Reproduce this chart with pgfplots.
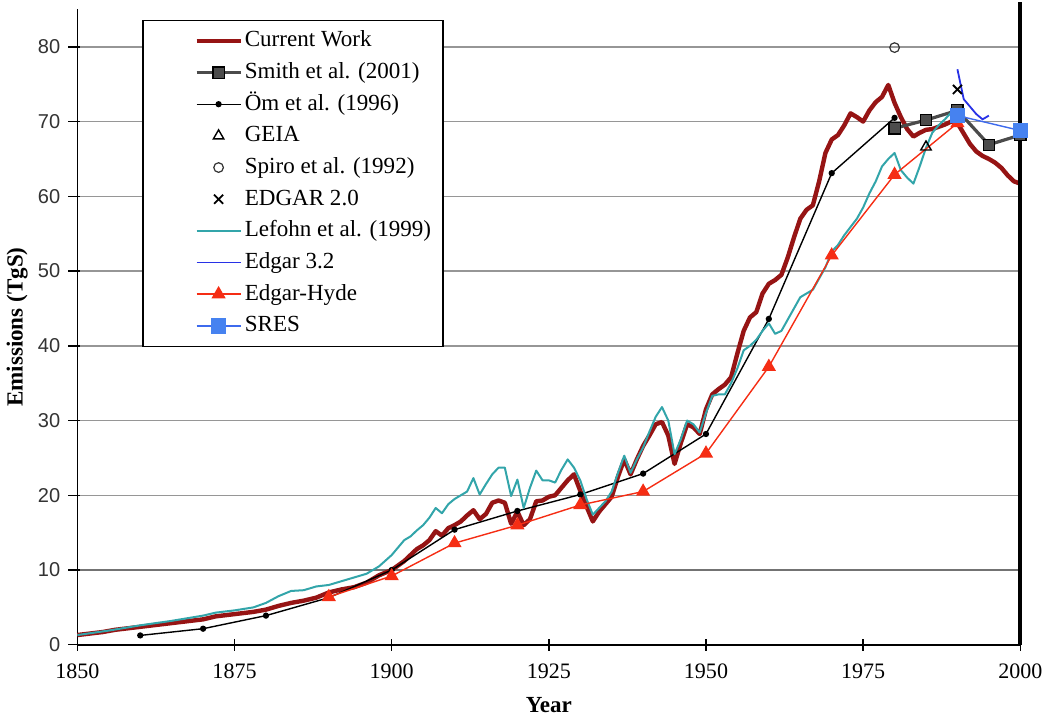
\documentclass[border=0pt]{standalone}
\usepackage{fontspec}
\setmainfont{Liberation Serif}
\newfontfamily\ysans{Liberation Sans}
\usepackage{pgfplots}
\pgfplotsset{compat=1.18}
\definecolor{cwred}{RGB}{150,20,20}
\definecolor{smithgray}{RGB}{75,75,75}
\definecolor{lefteal}{RGB}{50,165,170}
\definecolor{ehred}{RGB}{245,45,20}
\definecolor{e32blue}{RGB}{40,50,230}
\definecolor{sresblue}{RGB}{70,130,240}
\definecolor{gridgray}{RGB}{150,150,150}
\begin{document}
\begin{tikzpicture}
\begin{axis}[
  width=470.5pt, height=317pt, scale only axis,
  xmin=1850, xmax=2000, ymin=0, ymax=85,
  xtick={1850,1875,...,2000}, ytick={0,10,...,80},
  axis x line*=bottom, axis y line*=left,
  axis line style={line width=0.8pt},
  clip=false,
  tick align=outside, major tick length=6pt,
  xtick style={yshift=3pt, line width=0.7pt, black},
  ytick style={xshift=1.5pt, line width=0.7pt, black},
  ymajorgrids, major grid style={gridgray, line width=0.7pt},
  extra y ticks={10}, extra y tick labels={},
  extra y tick style={grid=major, major grid style={draw=black!55, line width=1.3pt}, ytick style={line width=1.3pt}},
  /pgf/number format/assume math mode=true,
  xticklabel style={font=\fontsize{11}{13}\selectfont, /pgf/number format/1000 sep={}, yshift=0pt},
  yticklabel style={font=\ysans\fontsize{10}{12}\selectfont, text=black!80, xshift=1pt},
  xlabel={\bfseries Year}, ylabel={\bfseries Emissions (TgS)},
  every axis x label/.style={at={(axis description cs:0.5,-0.0946)}, anchor=center, font=\fontsize{11.5}{13}\selectfont},
  every axis y label/.style={at={(axis description cs:-0.0638,0.5)}, anchor=center, rotate=90, font=\fontsize{11.5}{13}\selectfont},
  legend style={at={(rel axis cs:0.069,0.984)}, anchor=north west, draw=black, line width=0.8pt,
    inner xsep=5pt, inner ysep=4.2pt, font=\fontsize{11.5}{13.5}\selectfont, row sep=3.8pt,
    nodes={inner xsep=1pt, inner ysep=0pt, text height=9pt, text depth=3pt}},
  legend cell align=left,
  legend image code/.code={\path (-20.5pt,0pt); \draw[mark repeat=2,mark phase=2,#1] plot coordinates {(0pt,0pt) (11pt,0pt) (22pt,0pt)};},
]
% Current Work
\addplot[cwred, line width=2.2pt, line join=round] coordinates {
(1850,1.3)(1852,1.5)(1854,1.7)(1856,2.0)(1858,2.2)(1860,2.4)(1862,2.6)(1864,2.8)(1866,3.0)(1868,3.2)
(1870,3.4)(1872,3.8)(1874,4.0)(1876,4.2)(1878,4.4)(1880,4.7)(1882,5.2)(1884,5.6)(1886,5.9)(1888,6.3)
(1890,7.0)(1892,7.4)(1894,7.7)(1896,8.3)(1898,9.3)(1900,10.0)(1901,10.6)(1902,11.2)(1903,12.0)(1904,12.8)
(1905,13.3)(1906,14.0)(1907,15.2)(1908,14.6)(1909,15.6)(1910,16.0)(1911,16.5)(1912,17.3)(1913,18.0)(1914,16.8)
(1915,17.5)(1916,19.0)(1917,19.3)(1918,19.0)(1919,16.2)(1920,17.8)(1921,16.0)(1922,16.8)(1923,19.2)(1924,19.3)
(1925,19.8)(1926,20.0)(1927,21.0)(1928,22.0)(1929,22.8)(1930,20.6)(1931,18.5)(1932,16.5)(1933,17.8)(1934,18.8)
(1935,19.8)(1936,22.5)(1937,24.8)(1938,22.8)(1939,24.8)(1940,26.6)(1941,28.0)(1942,29.5)(1943,29.8)(1944,28.0)
(1945,24.2)(1946,27.0)(1947,29.5)(1948,29.1)(1949,28.2)(1950,31.5)(1951,33.5)(1952,34.2)(1953,34.8)(1954,35.8)
(1955,39.0)(1956,42.0)(1957,43.8)(1958,44.5)(1959,47.0)(1960,48.3)(1961,48.8)(1962,49.5)(1963,51.8)(1964,54.5)
(1965,57.0)(1966,58.2)(1967,58.8)(1968,62.0)(1969,65.8)(1970,67.6)(1971,68.2)(1972,69.5)(1973,71.1)(1974,70.6)
(1975,70.0)(1976,71.5)(1977,72.6)(1978,73.3)(1979,74.9)(1980,72.5)(1981,70.6)(1982,69.0)(1983,68.0)(1984,68.5)
(1985,68.9)(1986,69.0)(1987,69.3)(1988,69.6)(1989,70.0)(1990,69.8)(1991,68.4)(1992,67.0)(1993,66.0)(1994,65.4)
(1995,65.0)(1996,64.5)(1997,63.8)(1998,62.8)(1999,62.0)(2000,61.7)};
\addlegendentry{Current Work}
% Smith et al. (2001)
\addplot[smithgray, line width=1.6pt, mark=square*, mark size=2.8pt, mark options={fill=black!70, draw=black, line width=0.6pt}] coordinates {
(1980,69.1)(1985,70.2)(1990,71.5)(1995,66.9)(2000,68.2)};
\addlegendentry{Smith et al. (2001)}
% Orn et al. (1996)
\addplot[black, line width=0.7pt, mark=*, mark size=1.2pt] coordinates {
(1860,1.25)(1870,2.15)(1880,3.9)(1890,6.3)(1900,10.0)(1910,15.4)(1920,17.9)(1930,20.1)(1940,22.9)(1950,28.2)
(1960,43.6)(1970,63.1)(1980,70.5)};
\addlegendentry{Öm et al. (1996)}
% GEIA
\addplot[only marks, black, mark=triangle, mark size=3pt, mark options={line width=0.7pt}] coordinates {(1985,66.6)};
\addlegendentry{GEIA}
% Spiro
\addplot[only marks, black!80, mark=o, mark size=2.4pt, mark options={line width=0.6pt}] coordinates {(1980,79.9)};
\addlegendentry{Spiro et al. (1992)}
% EDGAR 2.0
\addplot[only marks, black, mark=x, mark size=3.2pt, mark options={line width=0.9pt}] coordinates {(1990,74.3)};
\addlegendentry{EDGAR 2.0}
% Lefohn et al. (1999)
\addplot[lefteal, line width=1pt, line join=round] coordinates {
(1850,1.3)(1855,1.9)(1860,2.6)(1865,3.2)(1870,3.9)(1872,4.3)(1875,4.6)(1878,5.0)(1880,5.6)(1882,6.5)
(1884,7.2)(1886,7.3)(1888,7.8)(1890,8.0)(1892,8.5)(1894,9.0)(1896,9.5)(1898,10.5)(1900,12.0)(1901,13.0)
(1902,14.0)(1903,14.5)(1904,15.3)(1905,16.0)(1906,17.0)(1907,18.3)(1908,17.6)(1909,18.8)(1910,19.5)(1911,20.0)
(1912,20.5)(1913,22.3)(1914,20.1)(1915,21.5)(1916,22.8)(1917,23.7)(1918,23.7)(1919,19.9)(1920,22.1)(1921,18.3)
(1922,21.0)(1923,23.3)(1924,22.0)(1925,22.0)(1926,21.7)(1927,23.4)(1928,24.8)(1929,23.7)(1930,22.0)(1931,19.5)
(1932,17.4)(1933,18.3)(1934,19.2)(1935,20.5)(1936,23.0)(1937,25.3)(1938,23.0)(1939,24.8)(1940,26.4)(1941,28.5)
(1942,30.5)(1943,31.8)(1944,30.0)(1945,25.5)(1946,27.5)(1947,30.0)(1948,29.5)(1949,28.4)(1950,31.0)(1951,33.3)
(1952,33.5)(1953,33.5)(1954,35.0)(1955,37.0)(1956,39.4)(1957,40.0)(1958,40.8)(1959,42.0)(1960,43.0)(1961,41.6)
(1962,42.0)(1963,43.5)(1964,45.0)(1965,46.5)(1966,47.0)(1967,47.5)(1968,49.0)(1969,50.5)(1970,52.6)(1971,53.5)
(1972,54.8)(1973,55.9)(1974,57.0)(1975,58.5)(1976,60.4)(1977,62.0)(1978,64.0)(1979,65.0)(1980,65.8)(1981,63.5)
(1982,62.5)(1983,61.7)(1984,64.0)(1985,66.5)(1986,68.5)(1987,69.5)(1988,70.3)(1989,71.2)(1990,71.5)};
\addlegendentry{Lefohn et al. (1999)}
% Edgar 3.2
\addplot[e32blue, line width=0.9pt] coordinates {
(1990,77.0)(1990.5,75.0)(1991,73.0)(1992,72.0)(1993,71.0)(1994,70.3)(1995,70.8)};
\addlegendentry{Edgar 3.2}
% Edgar-Hyde
\addplot[ehred, line width=0.7pt, mark=triangle*, mark size=3.4pt, mark options={fill=ehred, draw=ehred}] coordinates {
(1890,6.4)(1900,9.2)(1910,13.6)(1920,16.0)(1930,18.7)(1940,20.5)(1950,25.6)(1960,37.2)(1970,52.1)(1980,62.9)(1990,69.8)};
\addlegendentry{Edgar-Hyde}
% SRES
\addplot[sresblue!70!e32blue, line width=0.7pt, mark=square*, mark size=3.5pt, mark options={fill=sresblue, draw=sresblue}] coordinates {
(1990,70.8)(2000,68.8)};
\addlegendentry{SRES}
\draw[black, line width=2pt] (axis cs:2000,0) -- (axis cs:2000,86);
\end{axis}
\end{tikzpicture}
\end{document}
